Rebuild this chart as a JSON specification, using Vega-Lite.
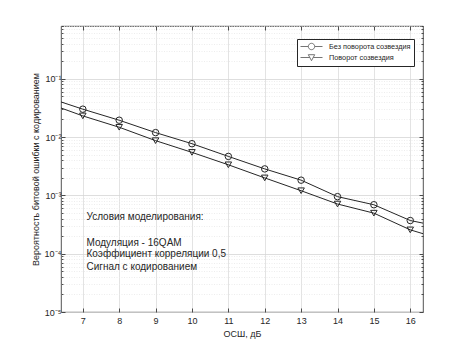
{
  "$schema": "https://vega.github.io/schema/vega-lite/v6.json",
  "width": 362,
  "height": 286,
  "autosize": {"type": "none"},
  "padding": {"left": 61, "top": 26, "right": 45, "bottom": 39},
  "background": "white",
  "config": {
    "view": {"stroke": "#262626", "strokeWidth": 0.8},
    "font": "Liberation Sans",
    "axis": {"labelFont": "Liberation Sans", "titleFont": "Liberation Sans", "labelColor": "#262626", "titleColor": "#262626", "titleFontWeight": "normal"}
  },
  "datasets": {
    "curves": [
      {"x": 6, "ber": 0.0483, "s": "Без поворота созвездия"},
      {"x": 7, "ber": 0.030, "s": "Без поворота созвездия"},
      {"x": 8, "ber": 0.0194, "s": "Без поворота созвездия"},
      {"x": 9, "ber": 0.0119, "s": "Без поворота созвездия"},
      {"x": 10, "ber": 0.00768, "s": "Без поворота созвездия"},
      {"x": 11, "ber": 0.00465, "s": "Без поворота созвездия"},
      {"x": 12, "ber": 0.00284, "s": "Без поворота созвездия"},
      {"x": 13, "ber": 0.00182, "s": "Без поворота созвездия"},
      {"x": 14, "ber": 0.00095, "s": "Без поворота созвездия"},
      {"x": 15, "ber": 0.00069, "s": "Без поворота созвездия"},
      {"x": 16, "ber": 0.00037, "s": "Без поворота созвездия"},
      {"x": 17, "ber": 0.000276, "s": "Без поворота созвездия"},
      {"x": 6, "ber": 0.0387, "s": "Поворот созвездия"},
      {"x": 7, "ber": 0.023, "s": "Поворот созвездия"},
      {"x": 8, "ber": 0.0147, "s": "Поворот созвездия"},
      {"x": 9, "ber": 0.00866, "s": "Поворот созвездия"},
      {"x": 10, "ber": 0.00545, "s": "Поворот созвездия"},
      {"x": 11, "ber": 0.00334, "s": "Поворот созвездия"},
      {"x": 12, "ber": 0.00199, "s": "Поворот созвездия"},
      {"x": 13, "ber": 0.00120, "s": "Поворот созвездия"},
      {"x": 14, "ber": 0.00071, "s": "Поворот созвездия"},
      {"x": 15, "ber": 0.000495, "s": "Поворот созвездия"},
      {"x": 16, "ber": 0.000256, "s": "Поворот созвездия"},
      {"x": 17, "ber": 0.000166, "s": "Поворот созвездия"}
    ],
    "notes": [
      {"x": 7.1, "y": 0.000418, "t": "Условия моделирования:"},
      {"x": 7.1, "y": 0.000155, "t": "Модуляция - 16QAM"},
      {"x": 7.1, "y": 0.000097, "t": "Коэффициент корреляции 0,5"},
      {"x": 7.1, "y": 0.0000597, "t": "Сигнал с кодированием"}
    ]
  },
  "layer": [
    {
      "data": {"name": "curves"},
      "mark": {"type": "line", "clip": true, "stroke": "#262626", "strokeWidth": 1},
      "encoding": {
        "x": {"field": "x", "type": "quantitative", "scale": {"domain": [6.4, 16.35], "nice": false, "zero": false},
          "axis": {"orient": "bottom", "values": [7, 8, 9, 10, 11, 12, 13, 14, 15, 16], "grid": true, "gridColor": "#dcdcdc", "gridWidth": 0.8,
            "domain": false, "tickSize": -4, "tickColor": "#262626", "tickWidth": 0.8, "labelFontSize": 9, "labelPadding": 8,
            "title": "ОСШ, дБ", "titleFontSize": 9, "titlePadding": 4}},
        "y": {"field": "ber", "type": "quantitative", "scale": {"type": "log", "domain": [0.00001, 0.8], "nice": false},
          "axis": {"orient": "left",
            "values": [0.00001, 0.00002, 0.00003, 0.00004, 0.00005, 0.00006, 0.00007, 0.00008, 0.00009,
                       0.0001, 0.0002, 0.0003, 0.0004, 0.0005, 0.0006, 0.0007, 0.0008, 0.0009,
                       0.001, 0.002, 0.003, 0.004, 0.005, 0.006, 0.007, 0.008, 0.009,
                       0.01, 0.02, 0.03, 0.04, 0.05, 0.06, 0.07, 0.08, 0.09,
                       0.1, 0.2, 0.3, 0.4, 0.5, 0.6, 0.7, 0.8],
            "labelExpr": "abs(log(datum.value)/LN10 - round(log(datum.value)/LN10)) < 0.01 ? '10⁻' + ['⁰','¹','²','³','⁴','⁵'][-round(log(datum.value)/LN10)] : ''",
            "grid": true,
            "gridColor": {"condition": {"test": "abs(log(datum.value)/LN10 - round(log(datum.value)/LN10)) < 0.01", "value": "#d6d6d6"}, "value": "#e8e8e8"},
            "gridDash": {"condition": {"test": "abs(log(datum.value)/LN10 - round(log(datum.value)/LN10)) < 0.01", "value": []}, "value": [1, 1.5]},
            "gridWidth": 0.8,
            "domain": false,
            "tickSize": {"condition": {"test": "abs(log(datum.value)/LN10 - round(log(datum.value)/LN10)) < 0.01", "value": -4}, "value": -2},
            "tickColor": "#262626", "tickWidth": 0.8, "labelFontSize": 9, "labelPadding": 4, "labelBound": false, "labelOverlap": false,
            "title": "Вероятность битовой ошибки с кодированием", "titleFontSize": 9, "titlePadding": 4}},
        "detail": {"field": "s"}
      }
    },
    {
      "data": {"name": "curves"},
      "transform": [{"filter": "datum.x >= 7 && datum.x <= 16"}],
      "mark": {"type": "point", "filled": false, "stroke": "#262626", "strokeWidth": 1, "size": 42, "opacity": 1},
      "encoding": {
        "x": {"field": "x", "type": "quantitative",
          "axis": {"orient": "top", "values": [7, 8, 9, 10, 11, 12, 13, 14, 15, 16], "labels": false, "grid": false, "domain": false, "tickSize": -4, "tickColor": "#262626", "tickWidth": 0.8, "title": null}},
        "y": {"field": "ber", "type": "quantitative",
          "axis": {"orient": "right",
            "values": [0.00001, 0.00002, 0.00003, 0.00004, 0.00005, 0.00006, 0.00007, 0.00008, 0.00009,
                       0.0001, 0.0002, 0.0003, 0.0004, 0.0005, 0.0006, 0.0007, 0.0008, 0.0009,
                       0.001, 0.002, 0.003, 0.004, 0.005, 0.006, 0.007, 0.008, 0.009,
                       0.01, 0.02, 0.03, 0.04, 0.05, 0.06, 0.07, 0.08, 0.09,
                       0.1, 0.2, 0.3, 0.4, 0.5, 0.6, 0.7, 0.8],
            "labels": false, "grid": false, "domain": false,
            "tickSize": {"condition": {"test": "abs(log(datum.value)/LN10 - round(log(datum.value)/LN10)) < 0.01", "value": -4}, "value": -2},
            "tickColor": "#262626", "tickWidth": 0.8, "title": null}},
        "shape": {"field": "s", "type": "nominal",
          "scale": {"domain": ["Без поворота созвездия", "Поворот созвездия"], "range": ["circle", "triangle-down"]},
          "legend": null}
      }
    },
    {
      "data": {"name": "curves"},
      "transform": [{"filter": "datum.x == 6"}],
      "mark": {"type": "point", "filled": false, "stroke": "#262626", "strokeWidth": 0.9, "clip": true},
      "encoding": {
        "x": {"field": "x", "type": "quantitative", "axis": null},
        "y": {"field": "ber", "type": "quantitative", "axis": null},
        "shape": {"field": "s", "type": "nominal",
          "scale": {"domain": ["Без поворота созвездия", "Поворот созвездия"],
            "range": ["M-1,0H0.95M2.55,0H4.5M2.55,0A0.8,0.8 0 1,1 0.95,0A0.8,0.8 0 1,1 2.55,0",
                      "M-1,0H1.32M2.18,0H4.5M0.95,-0.7L2.55,-0.7L1.75,0.8Z"]},
          "legend": {"orient": "none", "legendX": 236, "legendY": 13, "title": null,
            "strokeColor": "#262626", "fillColor": "white", "padding": 3, "rowPadding": 0,
            "symbolSize": 64, "symbolStrokeColor": "#262626", "symbolFillColor": "transparent", "symbolStrokeWidth": 0.9,
            "labelFontSize": 7.3, "labelFont": "Liberation Sans", "labelColor": "#262626", "labelOffset": 20, "labelLimit": 200}}
      }
    },
    {
      "data": {"name": "notes"},
      "mark": {"type": "text", "align": "left", "baseline": "middle", "fontSize": 10, "font": "Liberation Sans", "color": "#262626"},
      "encoding": {
        "x": {"field": "x", "type": "quantitative", "axis": null},
        "y": {"field": "y", "type": "quantitative", "axis": null},
        "text": {"field": "t"}
      }
    }
  ],
  "resolve": {"scale": {"shape": "independent"}, "axis": {"x": "independent", "y": "independent"}}
}
